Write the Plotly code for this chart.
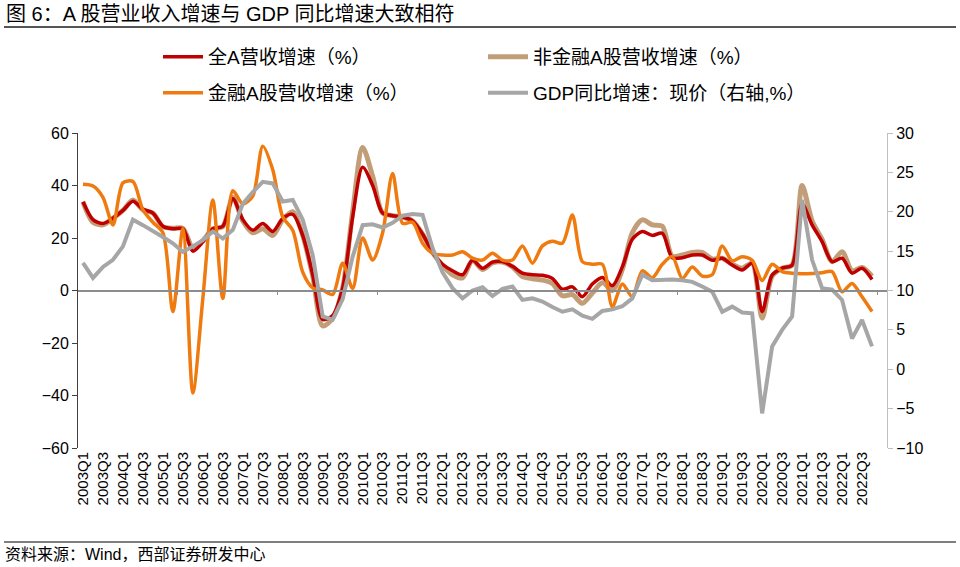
import plotly.graph_objects as go

# ---------------- data ----------------
years = list(range(2003, 2024))
quarters = [f"{y}Q{q}" for y in years for q in (1, 2, 3, 4)][:81]  # 2003Q1 .. 2023Q1

total_a = [33.8, 27, 25.5, 27.5, 30.5, 34, 31, 29.5, 24.5, 23.5,
           23.5, 15, 18.5, 23.5, 24.5, 35, 27, 23, 25.5, 22.5,
           27.5, 29, 21, 6, -11, -9.5, 1, 28, 47, 40,
           29.5, 28.5, 28, 26.5, 21.5, 14.5, 10, 7.5, 6, 11.5,
           8.5, 10.8, 11, 9.2, 6.6, 6, 5.8, 4.6, 0.5, 1.4,
           -2.4, 2.5, 5, 1.8, 9, 19.5, 22.5, 21, 21.8, 12.5,
           12.5, 13.5, 13.5, 11.5, 12.3, 9.7, 7.8, 10.4, -8, 5.9,
           8.5, 9.7, 33, 25, 18.6, 11, 12.3, 6.6, 8.5, 4.2]

non_fin = [33.8, 26, 25, 27.5, 30.5, 34.5, 30.7, 29.5, 24.3, 23.7,
           23.7, 16.3, 19, 23.5, 24.3, 35.5, 26.5, 22, 23.5, 21,
           27, 30, 21, 5.5, -13.5, -10.5, 1, 30, 54.5, 43.5,
           29.5, 28.5, 28, 26.5, 21.5, 14.5, 9.5, 6, 4.8, 11.5,
           8, 10.5, 10.8, 9, 5.3, 4.5, 4, 2.7, -2, -1.6,
           -4.9, -1, 3, 0, 8, 22, 26.9, 25, 24.5, 13,
           13.5, 14.5, 14.5, 12, 12.3, 10, 8.5, 10.4, -10.5, 5.5,
           8.5, 9.7, 40, 26.5, 19.5, 11, 14.8, 7.5, 8.8, 5.5]

fin = [40.5, 39.8, 35.5, 25, 41, 41.5, 30.7, 26, 22, -8,
       23.5, -39, -3, 34.5, -3, 38, 33, 36, 55, 46,
       28, 23, 7, 1, 0.2, -1.5, 10.4, 0.8, 20, 11.6,
       22, 44.6, 25.6, 26, 18, 14.2, 13.5, 13.5, 14.8, 12.3,
       11.6, 14.2, 11.6, 11.6, 17, 10.4, 17, 18.8, 18, 28.8,
       11, 10, 10, -6.2, 2.5, -2.4, 7.5, 4.8, 10, 12.9,
       4.6, 9, 5.5, 6, 17, 11.3, 12.9, 11.5, 3.8, 10,
       7.2, 6.6, 6.4, 6.5, 6.8, 7.2, -0.5, 2.7, -2.4, -8]

gdp = [13.5, 11.6, 13.0, 13.9, 15.6, 19.0, 18.3, 17.6, 16.8, 16.0,
       14.9, 15.6, 16.4, 17.5, 16.6, 17.7, 21.0, 22.5, 23.8, 23.6,
       21.3, 21.5, 19.0, 14.5, 6.7, 6.3, 8.9, 14.3, 18.3, 18.4,
       18.0, 18.6, 19.5, 19.7, 19.6, 15.4, 12.3, 10.3, 9.0, 10.0,
       10.4, 9.3, 10.2, 10.5, 8.8, 9.0, 8.6, 7.9, 7.3, 7.6,
       6.8, 6.4, 7.4, 7.6, 8.0, 9.0, 12.0, 11.3, 11.4, 11.4,
       11.3, 11.1, 10.5, 9.85, 7.3, 7.95, 7.2, 7.1, -5.6, 2.9,
       5.0, 6.7, 21.5, 13.9, 10.3, 10.1, 8.8, 3.9, 6.25, 2.9]

names = ["全A营收增速（%）", "非金融A股营收增速（%）", "金融A股营收增速（%）", "GDP同比增速：现价（右轴,%）"]
left_ticks = [-60, -40, -20, 0, 20, 40, 60]
right_ticks = [-10, -5, 0, 5, 10, 15, 20, 25, 30]
label_idx = list(range(0, 80, 2))
label_text = [quarters[i] for i in label_idx]
minor_idx = [9.5 + 10 * k for k in range(8)]

idx = list(range(len(gdp)))

# ---------------- layout geometry ----------------
W, H = 960, 567
L, R, T, B = 78, 887, 133, 448
PW, PH = R - L, B - T


def px2x(px):
    return (px - L) / PW


def px2y(py):
    return (B - py) / PH


FONT = "Liberation Sans, Arial, Noto Sans CJK SC, sans-serif"
CJK = "Liberation Sans, Noto Sans CJK SC, sans-serif"

C_RED = "#C00000"
C_TAN = "#C29E78"
C_ORG = "#EF7B10"
C_GRY = "#A6A6A6"

fig = go.Figure()
fig.add_trace(go.Scatter(x=idx, y=non_fin, name=names[1], mode="lines",
                         line=dict(color=C_TAN, width=5, shape="spline", smoothing=0.8),
                         legend="legend", legendrank=2))
fig.add_trace(go.Scatter(x=idx, y=total_a, name=names[0], mode="lines",
                         line=dict(color=C_RED, width=3.5, shape="spline", smoothing=0.8),
                         legend="legend", legendrank=1))
fig.add_trace(go.Scatter(x=idx, y=fin, name=names[2], mode="lines",
                         line=dict(color=C_ORG, width=3.5, shape="spline", smoothing=0.8),
                         legend="legend2", legendrank=3))
fig.add_trace(go.Scatter(x=idx, y=gdp, name=names[3], mode="lines", yaxis="y2",
                         line=dict(color=C_GRY, width=4),
                         legend="legend2", legendrank=4))
# dummy trace for the zero-line category axis
fig.add_trace(go.Scatter(x=[None], y=[None], xaxis="x2", yaxis="y", showlegend=False,
                         hoverinfo="skip"))

legend_common = dict(orientation="h", xanchor="left", yanchor="middle",
                     font=dict(family=CJK, size=19, color="#000000"),
                     bgcolor="rgba(0,0,0,0)", entrywidth=270, entrywidthmode="pixels",
                     itemwidth=40, traceorder="normal")

fig.update_layout(
    width=W, height=H,
    margin=dict(l=L, r=W - R, t=T, b=H - B),
    paper_bgcolor="white", plot_bgcolor="white",
    font=dict(family=FONT, size=16, color="#000000"),
    showlegend=True,
    legend=dict(x=px2x(158), y=px2y(57), **legend_common),
    legend2=dict(x=px2x(158), y=px2y(93), **legend_common),
    xaxis=dict(range=[-0.5, 80.5], tickmode="array", tickvals=label_idx, ticktext=label_text,
               tickangle=-90, showline=False, ticks="", showgrid=False, zeroline=False,
               tickfont=dict(family=FONT, size=15, color="#000000")),
    xaxis2=dict(range=[-0.5, 80.5], overlaying="x", anchor="free", position=0.5, side="bottom",
                showline=True, linecolor="#8C8C8C", linewidth=1.5, ticks="outside", ticklen=4,
                tickcolor="#8C8C8C", tickwidth=1, tickmode="array", tickvals=minor_idx,
                showticklabels=False, showgrid=False, zeroline=False),
    yaxis=dict(range=[-60, 60], tickmode="array", tickvals=left_ticks, showline=True,
               linecolor="#404040", linewidth=1, ticks="outside", ticklen=5, tickcolor="#404040",
               showgrid=False, zeroline=False, tickfont=dict(family=FONT, size=16, color="#000000")),
    yaxis2=dict(range=[-10, 30], tickmode="array", tickvals=right_ticks, overlaying="y",
                side="right", anchor="x", showline=True, linecolor="#BFBFBF", linewidth=1,
                ticks="outside", ticklen=5, tickcolor="#BFBFBF", showgrid=False, zeroline=False,
                tickfont=dict(family=FONT, size=16, color="#000000")),
)

# title, rules and source
fig.add_annotation(xref="paper", yref="paper", x=px2x(4), y=px2y(14), xanchor="left",
                   yanchor="middle", showarrow=False,
                   text="图 6：A 股营业收入增速与 GDP 同比增速大致相符",
                   font=dict(family=CJK, size=20, color="#000000"))
fig.add_annotation(xref="paper", yref="paper", x=px2x(3), y=px2y(554), xanchor="left",
                   yanchor="middle", showarrow=False,
                   text="资料来源：Wind，西部证券研发中心",
                   font=dict(family=CJK, size=16, color="#000000"))
fig.add_shape(type="line", xref="paper", yref="paper", x0=px2x(4), x1=px2x(956),
              y0=px2y(27), y1=px2y(27), line=dict(color="#555555", width=2))
fig.add_shape(type="line", xref="paper", yref="paper", x0=px2x(4), x1=px2x(956),
              y0=px2y(542), y1=px2y(542), line=dict(color="#555555", width=1.5))

fig.write_html("out.html")
